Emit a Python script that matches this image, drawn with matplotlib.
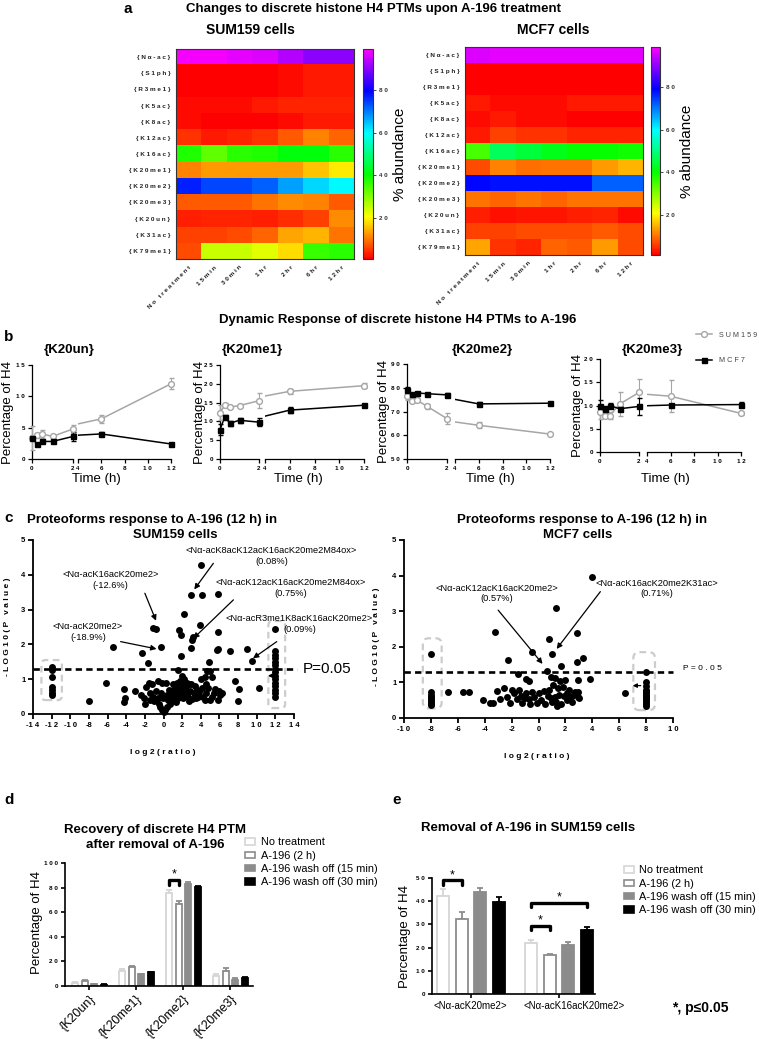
import numpy as np
import matplotlib
matplotlib.use('Agg')
import matplotlib.pyplot as plt
from matplotlib.colors import LinearSegmentedColormap
from matplotlib.patches import FancyBboxPatch, Patch
from matplotlib.lines import Line2D
from matplotlib.ticker import FuncFormatter
from matplotlib.transforms import ScaledTranslation

plt.rcParams['font.family'] = ['Liberation Sans', 'DejaVu Sans']

# ======================= DATA =======================
# --- panel a: heatmaps (% abundance) ---
ptm_labels = ['{Nα-ac}', '{S1ph}', '{R3me1}', '{K5ac}', '{K8ac}', '{K12ac}', '{K16ac}',
              '{K20me1}', '{K20me2}', '{K20me3}', '{K20un}', '{K31ac}', '{K79me1}']
heat_times = ['No treatment', '15min', '30min', '1hr', '2hr', '6hr', '12hr']
sum159_abund = [
    [98, 98, 97, 96, 93, 90, 90],
    [1, 1, 1, 1, 2, 3, 3],
    [1, 1, 1, 1, 2, 3, 3],
    [2, 2, 2, 3, 4, 4, 4],
    [2, 1, 1, 1, 2, 3, 3],
    [5, 3, 4, 5, 8, 11, 9],
    [38, 33, 37, 38, 41, 41, 37],
    [11, 13, 13, 13, 13, 16, 19],
    [77, 74, 74, 72, 67, 63, 60],
    [8, 8, 8, 10, 12, 11, 8],
    [3.5, 3.8, 4, 3.6, 4.8, 6.3, 12],
    [6, 6, 7, 9, 14, 15, 10],
    [7, 25, 25, 23, 18, 36, 37]]
mcf7_abund = [
    [96, 97, 97, 97, 97, 97, 97],
    [1, 1, 1, 1, 1, 1, 1],
    [1, 1, 1, 1, 1, 1, 1],
    [3, 2, 2, 2, 3, 3, 3],
    [2, 3, 2, 2, 1, 1, 1],
    [3, 6, 5, 5, 4, 4, 4],
    [35, 47, 45, 42, 40, 40, 39],
    [7, 11, 9.5, 10, 10, 13, 15],
    [79, 78, 78, 78, 78, 72, 72],
    [10, 9, 10, 9, 10, 10, 10],
    [3.3, 2.4, 2.8, 2.8, 3.5, 3.9, 2.0],
    [6, 6, 7, 7, 7, 8, 7],
    [14, 5, 4, 9, 8, 13, 7]]
abund_ticks = [20, 40, 60, 80]

# --- panel b: time courses ---
b_time = [0, 0.25, 0.5, 1, 2, 6, 12]
b_names = ['{K20un}', '{K20me1}', '{K20me2}', '{K20me3}']
b_sum159 = [[3.3, 3.8, 4.0, 3.6, 4.8, 6.4, 12.0],
            [12.3, 14.3, 13.8, 14.2, 15.5, 18.0, 19.5],
            [76.5, 74.5, 74.8, 72.2, 67.0, 64.2, 60.5],
            [8.5, 7.8, 7.8, 10.3, 12.8, 12.0, 8.3]]
b_sum159_err = [[1.9, 0.4, 0.7, 0.3, 0.6, 0.6, 0.9],
                [2.0, 0.5, 0.3, 0.3, 2.0, 0.6, 0.7],
                [1.5, 0.6, 0.8, 1.0, 2.2, 1.2, 0.6],
                [1.5, 0.5, 0.8, 2.5, 2.8, 3.4, 0.3]]
b_mcf7 = [[3.3, 2.4, 2.8, 2.8, 3.6, 4.0, 2.4],
          [7.8, 11.3, 9.5, 10.3, 9.8, 13.0, 14.3],
          [79.0, 77.2, 77.8, 77.5, 77.0, 73.2, 73.5],
          [10.0, 9.3, 10.0, 9.3, 9.8, 10.1, 10.2]]
b_mcf7_err = [[0.3, 0.2, 0.2, 0.2, 0.7, 0.3, 0.2],
              [1.5, 0.5, 0.7, 0.7, 1.0, 0.8, 0.4],
              [1.2, 0.6, 0.5, 0.5, 1.0, 0.8, 0.4],
              [1.2, 0.7, 0.6, 0.5, 1.8, 0.3, 0.6]]
b_ylims = [(0, 15), (0, 25), (50, 90), (0, 20)]
b_yticks = [[0, 5, 10, 15], [0, 5, 10, 15, 20, 25], [50, 60, 70, 80, 90], [0, 5, 10, 15, 20]]

# --- panel c: volcano plots ---
sum159_log2 = [4.0, 2.9, 4.1, 5.8, 2.2, 3.9, -1.1, -0.8, 1.7, 1.9, 3.2, 3.1, 5.9, 12.0, -5.4, -0.3,
               -2.3, 3.0, 1.9, 5.7, 5.9, 7.1, 9.0, 9.5, -1.7, 4.9, 4.7,
               1.6, 2.0, 2.2, 1.8, 2.5, 3.0, 3.6, 4.0, 4.4, 5.0, 5.2, 6.0, 5.5, 4.8, 5.8, 6.1, 6.3,
               7.7, 8.0, 8.1, 10.2, 3.3, 2.6, 2.1, 1.5, 1.2, 1.0, 0.8, 1.3, 1.7, 2.3, 2.8, 3.5,
               4.2, 4.6, 5.2, 1.9, 2.4, 1.4, 0.5, 0.7, 0.4, 0.2, 0.0, -0.2, -0.4, 1.1, 1.6, 2.0,
               2.7, 3.1, 3.8, 4.4, 5.0, 0.9, 1.5,
               0.6, 0.9, 1.2, 1.4, 1.8, 2.2, 2.5, 1.0, 1.3, 2.1, 2.7, 3.4, 0.4, 0.6, -0.3, -0.6,
               3.7, 4.1, 5.4, 4.6,
               -6.2, -8.0, -4.2, -4.1, -4.2, -3.1, -1.9, -1.6, -1.2, -0.6, -0.2, -2.1, -1.5, -1.0,
               -0.5, -1.1, -2.0, -0.8, 0.3, -0.1, -1.4, -2.4,
               -12, -12, -12, -12, -12, -12, -12,
               12, 12, 12, 12, 12, 12, 12, 12, 12, 12, 12, 12, 12, 12]
sum159_logp = [4.28, 3.43, 3.43, 3.46, 2.88, 2.56, 2.48, 2.44, 2.42, 2.27, 2.22, 2.14, 2.36, 2.45, 1.93, 1.92,
               1.74, 1.89, 1.67, 1.85, 1.88, 1.81, 1.86, 1.52, 1.46, 1.48, 1.25,
               1.27, 1.10, 1.00, 0.95, 0.90, 0.85, 0.70, 1.00, 1.05, 1.25, 1.05, 0.65, 0.72, 0.75, 0.40, 0.55, 0.60,
               0.95, 0.38, 0.72, 0.75, 0.60, 0.50, 0.45, 0.55, 0.60, 0.70, 0.50, 0.35, 0.75, 0.70, 0.65, 0.45,
               0.50, 0.60, 0.50, 0.85, 0.80, 0.90, 0.40, 0.30, 0.20, 0.12, 0.05, 0.12, 0.20, 0.40, 0.45, 0.60,
               0.38, 0.42, 0.62, 0.40, 0.40, 0.60, 0.75,
               0.45, 0.42, 0.50, 0.62, 0.55, 0.55, 0.62, 0.85, 0.80, 0.80, 0.85, 0.80, 0.55, 0.70, 0.60, 0.45,
               0.50, 0.75, 0.60, 0.85,
               0.90, 0.38, 0.71, 0.45, 0.35, 0.67, 0.79, 0.90, 0.85, 0.94, 0.90, 0.45, 0.60, 0.36,
               0.28, 0.50, 0.30, 0.65, 0.90, 0.45, 0.40, 0.55,
               1.36, 1.26, 1.07, 0.78, 0.69, 0.60, 0.55,
               1.80, 1.70, 1.60, 1.50, 1.40, 1.30, 1.20, 1.10, 1.00, 0.90, 0.80, 0.70, 0.60, 0.50]
mcf7_log2 = [3.95, 1.3, -3.2, 2.85, 0.8, -0.5, 1.0, -8.0, -2.25, 3.3, 2.85, 1.7, 0.6, -1.55, -0.95, -0.7,
             2.95, 3.8, 0.9, 1.25, 1.6, 2.0, 1.1, 1.45, 1.8, 2.3, 0.75, 1.5, 1.2, 2.1, 2.5, 2.9,
             -6.7, -5.65, -5.2, -4.1, -3.6, -3.1, -2.85, -2.6, -2.35, -2.1, -1.85, -1.6, -1.45, -1.2,
             -0.95, -0.7, -0.6, -0.45, -3.35, 0.2, 0.5, 0.9, 1.3, 1.7, 2.1, 2.5, 2.9, 2.7, 1.9, -0.1,
             0.7, 3.0, 6.45,
             -1.0, -0.3, 0.0, 0.4, 1.0, -2.0, -1.3, 1.4, 2.3,
             -8, -8, -8, -8, -8, -8, -8, -8,
             8, 8, 8, 8, 8, 8, 8, 8, 8, 8, 8, 8, 8]
mcf7_logp = [3.97, 3.10, 2.42, 2.40, 2.21, 1.84, 1.80, 1.80, 1.64, 1.68, 1.56, 1.45, 1.32, 1.23, 1.10, 1.03,
             1.07, 1.09, 1.16, 1.12, 1.03, 1.07, 0.93, 0.84, 0.88, 0.78, 0.78, 0.66, 0.60, 0.70, 0.62, 0.72,
             0.72, 0.74, 0.74, 0.51, 0.41, 0.75, 0.52, 0.84, 0.60, 0.42, 0.69, 0.52, 0.78, 0.42,
             0.69, 0.52, 0.40, 0.74, 0.41, 0.50, 0.40, 0.55, 0.45, 0.40, 0.50, 0.45, 0.60, 0.72, 0.62, 0.42,
             0.62, 0.55, 0.71,
             0.55, 0.60, 0.70, 0.75, 0.45, 0.80, 0.62, 0.35, 0.55,
             0.72, 0.66, 0.60, 0.55, 0.50, 0.45, 0.40, 0.36,
             1.30, 1.02, 0.90, 0.80, 0.75, 0.70, 0.65, 0.60, 0.55, 0.50, 0.45, 0.40, 0.35]
p_threshold = 0.05

# --- panel d / e: bars ---
bar_series = ['No treatment', 'A-196 (2 h)', 'A-196 wash off (15 min)', 'A-196 wash off (30 min)']
d_groups = ['{K20un}', '{K20me1}', '{K20me2}', '{K20me3}']
d_vals = [[2.6, 12.5, 75.6, 8.1],
          [4.4, 15.3, 66.8, 12.3],
          [1.6, 9.4, 83.0, 5.2],
          [1.0, 11.0, 80.8, 6.7]]
d_errs = [[1.0, 1.5, 2.5, 1.5],
          [0.8, 1.2, 2.5, 2.2],
          [0.4, 0.7, 1.5, 1.0],
          [0.3, 0.5, 0.7, 0.5]]
e_groups = ['<Nα-acK20me2>', '<Nα-acK16acK20me2>']
e_vals = [[42.3, 21.8], [32.5, 16.6], [43.8, 21.2], [39.8, 27.6]]
e_errs = [[2.8, 1.4], [2.9, 0.7], [1.8, 1.0], [1.8, 1.4]]

# ======================= FIGURE =======================
W, H = 759, 1039
fig = plt.figure(figsize=(W / 100, H / 100), dpi=100)


def ax_px(x0, y0, x1, y1):
    return fig.add_axes([x0 / W, 1 - y1 / H, (x1 - x0) / W, (y1 - y0) / H])


def ftext(x, y, s, **kw):
    kw.setdefault('ha', 'center')
    kw.setdefault('va', 'center')
    return fig.text(x / W, 1 - y / H, s, **kw)


def spaced(s):
    return ' '.join(s)


def sp_num(v, pos=None):
    s = '%d' % round(v)
    if s[0] == '-':
        return '-' + ' '.join(s[1:])
    return ' '.join(s)


def bold_ticks(ax):
    plt.setp(ax.get_xticklabels() + ax.get_yticklabels(), fontweight='bold')


def simple_spines(ax, lw=0.9):
    for s in ['top', 'right']:
        ax.spines[s].set_visible(False)
    for s in ['left', 'bottom']:
        ax.spines[s].set_linewidth(lw)
    ax.tick_params(width=lw, length=3, labelsize=4.5, pad=2)


# ---------------- panel a ----------------
cmap = LinearSegmentedColormap.from_list(
    'abund', [(0.0, '#ff0000'), (0.2, '#ffff00'), (0.4, '#00ff00'),
              (0.6, '#00ffff'), (0.8, '#0000ff'), (1.0, '#ff00ff')])

ftext(128, 9, 'a', fontsize=11, fontweight='bold')
ftext(374, 9, 'Changes to discrete histone H4 PTMs upon A-196 treatment', fontsize=9.5, fontweight='bold')


def heat(rect, crect, data, title, tx):
    ax = ax_px(*rect)
    cax = ax_px(*crect)
    im = ax.imshow(np.array(data, dtype=float), cmap=cmap, vmin=1, vmax=99, aspect='auto',
                   interpolation='nearest')
    ax.set_xticks(range(len(heat_times)))
    ax.set_xticklabels([spaced(t) for t in heat_times], rotation=45, ha='right',
                       rotation_mode='anchor', fontsize=4.6, fontweight='bold', color='#222222')
    ax.set_yticks(range(len(ptm_labels)))
    ax.set_yticklabels([spaced(l) for l in ptm_labels], fontsize=4.6, fontweight='bold', color='#222222')
    ax.tick_params(length=0, pad=4)
    for s in ax.spines.values():
        s.set_linewidth(0.8)
        s.set_color('#333333')
    cb = fig.colorbar(im, cax=cax, ticks=abund_ticks)
    cb.ax.set_yticklabels([sp_num(v) for v in abund_ticks], fontsize=4.5, fontweight='bold', color='#333333')
    cb.ax.tick_params(length=2, width=0.5, pad=2)
    cb.outline.set_linewidth(0.8)
    cb.outline.set_edgecolor('#333333')
    cb.set_label('% abundance', fontsize=11, labelpad=4)
    ftext(tx, 30, title, fontsize=10, fontweight='bold')


heat((176, 49, 354, 259), (363, 49, 373, 259), sum159_abund, 'SUM159 cells', 250)
heat((465, 47, 643, 255), (651, 47, 660, 255), mcf7_abund, 'MCF7 cells', 553)

# ---------------- panel b ----------------
ftext(9, 337, 'b', fontsize=11, fontweight='bold')
ftext(398, 320, 'Dynamic Response of discrete histone H4 PTMs to A-196', fontsize=9.5, fontweight='bold')

b_rects = [((32, 365, 73, 459), (78, 365, 171, 459)),
           ((220, 365, 259, 459), (265, 365, 364, 459)),
           ((407, 364, 447, 459), (455, 364, 550, 459)),
           ((600, 359, 639, 452), (647, 359, 741, 452))]
b_title_x = [69, 252, 482, 652]
b_ylab_x = [8, 200, 384, 578]
b_time_x = [96, 298, 490, 665]
t_arr = np.array(b_time, dtype=float)
grey = '#a6a6a6'
for i in range(4):
    (l_rect, r_rect) = b_rects[i]
    axL = ax_px(*l_rect)
    axR = ax_px(*r_rect)
    for ax, lo, hi in [(axL, 0, 2), (axR, 4, 12)]:
        m = (t_arr >= lo) & (t_arr <= hi)
        for vals, errs, col, mk, mfc, ms in [(b_sum159[i], b_sum159_err[i], grey, 'o', 'white', 4.2),
                                             (b_mcf7[i], b_mcf7_err[i], 'black', 's', 'black', 3.6)]:
            v = np.array(vals)
            e = np.array(errs)
            ax.plot(t_arr, v, color=col, lw=1.1, zorder=2)
            eb = ax.errorbar(t_arr[m], v[m], yerr=e[m], fmt=mk, color=col, mfc=mfc, mec=col,
                             ms=ms, mew=1.0, capsize=1.8, elinewidth=0.8, capthick=0.8, zorder=3)
            ln, caps, bars_ = eb.lines
            for a in [ln, *caps, *bars_]:
                a.set_clip_on(False)
        ax.set_xlim(lo, hi)
        ax.set_ylim(*b_ylims[i])
        simple_spines(ax)
        ax.xaxis.set_major_formatter(FuncFormatter(sp_num))
        ax.yaxis.set_major_formatter(FuncFormatter(sp_num))
    axL.set_xticks([0, 2])
    axR.set_xticks([4, 6, 8, 10, 12])
    axL.set_yticks(b_yticks[i])
    axR.spines['left'].set_visible(False)
    axR.set_yticks([])
    bold_ticks(axL)
    bold_ticks(axR)
    yc = (l_rect[1] + l_rect[3]) / 2
    ftext(b_ylab_x[i], yc, 'Percentage of H4', fontsize=9.5, rotation=90)
    ftext(b_time_x[i], 479, 'Time (h)', fontsize=9.5)
    ftext(b_title_x[i], 350, b_names[i], fontsize=9.5, fontweight='bold')

leg_handles = [Line2D([0], [0], color=grey, marker='o', mfc='white', mec=grey, ms=4.2, lw=1.1),
               Line2D([0], [0], color='black', marker='s', mfc='black', ms=3.6, lw=1.1)]
fig.legend(leg_handles, [spaced('SUM159'), spaced('MCF7')], loc='upper left',
           bbox_to_anchor=(692 / W, 1 - 328 / H), frameon=False, fontsize=5.2,
           handlelength=2.3, labelspacing=2.6, handletextpad=0.9, borderpad=0,
           labelcolor='#444444')

# ---------------- panel c ----------------
ftext(9, 518, 'c', fontsize=11, fontweight='bold')
thr = -np.log10(p_threshold)


def volcano(rect, xs, ys, xlim, title_x, title2, t2x, boxes, mut_aspect):
    ax = ax_px(*rect)
    ax.scatter(xs, ys, s=25, color='black', linewidths=0, zorder=3, clip_on=False)
    ax.set_xlim(*xlim)
    ax.set_ylim(0, 5)
    ax.set_xticks(np.arange(xlim[0], xlim[1] + 1, 2))
    ax.set_yticks([0, 1, 2, 3, 4, 5])
    simple_spines(ax, lw=1.3)
    ax.tick_params(labelsize=5.5, length=3.5, width=1.3)
    ax.xaxis.set_major_formatter(FuncFormatter(sp_num))
    bold_ticks(ax)
    for (bx0, by0, bx1, by1) in boxes:
        p = FancyBboxPatch((bx0, by0), bx1 - bx0, by1 - by0,
                           boxstyle='round,pad=0,rounding_size=0.45', mutation_aspect=mut_aspect,
                           fill=False, ec='#cccccc', lw=1.6, ls=(0, (3, 2)), zorder=2)
        ax.add_patch(p)
    ftext(title_x, 520, 'Proteoforms response to A-196 (12 h) in', fontsize=9.5, fontweight='bold')
    ftext(t2x, 535, title2, fontsize=9.5, fontweight='bold')
    return ax


axc1 = volcano((33, 540, 294, 714), sum159_log2, sum159_logp, (-14, 14), 152, 'SUM159 cells', 175,
               [(-13.1, 0.4, -10.9, 1.55), (11.25, 0.17, 13.05, 2.67)], 0.268)
axc1.axhline(thr, xmin=0, xmax=1.012, color='black', lw=1.9, ls=(0, (2.4, 1.6)), clip_on=False, zorder=4)
ftext(303, 669, 'P=0.05', fontsize=11, ha='left')
ftext(163, 752, spaced('log2(ratio)'), fontsize=6, fontweight='bold')
ftext(8, 627, spaced('-LOG10(P value)'), fontsize=6, fontweight='bold', rotation=90)

axc2 = volcano((404, 540, 673, 718), mcf7_log2, mcf7_logp, (-10, 10), 582, 'MCF7 cells', 578,
               [(-8.6, 0.27, -7.2, 2.24), (7.05, 0.22, 8.66, 1.85)], 0.378)
axc2.axhline(thr, xmin=0, xmax=1.0, color='black', lw=1.9, ls=(0, (2.4, 1.6)), clip_on=False, zorder=4)
ftext(683, 668, 'P = 0 . 0 5', fontsize=6, ha='left')
ftext(537, 757, spaced('log2(ratio)'), fontsize=6, fontweight='bold')
ftext(376, 637, spaced('-LOG10(P value)'), fontsize=6, fontweight='bold', rotation=90)

arr = dict(arrowstyle='-|>', color='black', lw=0.9, mutation_scale=8, shrinkA=0, shrinkB=0)
small_arr = dict(arrowstyle='-|>', color='black', lw=0.9, mutation_scale=6, shrinkA=0, shrinkB=0)
ann_fs = 6.7
c1_ann = [('<Nα-acK20me2>\n(-18.9%)', (-8.1, 2.36), (-4.6, 2.08), (-0.75, 1.87)),
          ('<Nα-acK16acK20me2>\n(-12.6%)', (-5.7, 3.85), (-2.0, 3.47), (-0.8, 2.68)),
          ('<Nα-acK8acK12acK16acK20me2M84ox>\n(0.08%)', (11.6, 4.55), (5.35, 4.33), (3.3, 3.58)),
          ('<Nα-acK12acK16acK20me2M84ox>\n(0.75%)', (13.6, 3.62), (7.5, 3.28), (3.2, 2.17)),
          ('<Nα-acR3me1K8acK16acK20me2>\n(0.09%)', (14.6, 2.58), (12.15, 2.08), (9.6, 1.6))]
for txt, tp, tail, tip in c1_ann:
    axc1.text(tp[0], tp[1], txt, fontsize=ann_fs, ha='center', va='center', linespacing=1.25, zorder=6)
    axc1.annotate('', xy=tip, xytext=tail, arrowprops=arr, zorder=6)
axc1.annotate('', xy=(11.2, 1.1), xytext=(11.9, 1.1), arrowprops=small_arr, zorder=6)

c2_ann = [('<Nα-acK12acK16acK20me2>\n(0.57%)', (-3.1, 3.5), (-3.0, 3.03), (0.3, 1.52)),
          ('<Nα-acK16acK20me2K31ac>\n(0.71%)', (8.8, 3.64), (4.6, 3.55), (1.35, 1.94))]
for txt, tp, tail, tip in c2_ann:
    axc2.text(tp[0], tp[1], txt, fontsize=ann_fs, ha='center', va='center', linespacing=1.25, zorder=6)
    axc2.annotate('', xy=tip, xytext=tail, arrowprops=arr, zorder=6)
axc2.annotate('', xy=(7.0, 0.91), xytext=(7.6, 0.91), arrowprops=small_arr, zorder=6)

# ---------------- panels d, e ----------------
bar_fc = ['white', 'white', '#8c8c8c', 'black']
bar_ec = ['#d6d6d6', '#8c8c8c', '#8c8c8c', 'black']


def bars(ax, vals, errs, ngroups, step, width):
    x = np.arange(ngroups)
    for k in range(4):
        xs = x + (k - 1.5) * step
        ax.bar(xs, vals[k], width=width, color=bar_fc[k], edgecolor=bar_ec[k], lw=1.3, zorder=2)
        ax.errorbar(xs, vals[k], yerr=[np.zeros(ngroups), errs[k]], fmt='none', ecolor=bar_ec[k],
                    elinewidth=1.3, capsize=2.2, capthick=1.3, zorder=1)
    return x


def bracket(ax, x1, x2, y, h, ys):
    ax.plot([x1, x1, x2, x2], [y - h, y, y, y - h], color='black', lw=2.4,
            solid_joinstyle='round', solid_capstyle='round', zorder=4, clip_on=False)
    ax.text((x1 + x2) / 2, ys, '*', ha='center', va='center', fontsize=9, zorder=4)


leg_fs = 7.9
ftext(9, 800, 'd', fontsize=11, fontweight='bold')
ftext(155, 830, 'Recovery of discrete H4 PTM', fontsize=9.5, fontweight='bold')
ftext(155, 845, 'after removal of A-196', fontsize=9.5, fontweight='bold')
axd = ax_px(65, 863, 253, 986)
d_step, d_w = 0.206, 0.13
xd = bars(axd, d_vals, d_errs, 4, d_step, d_w)
axd.set_xlim(-0.52, 3.48)
axd.set_ylim(0, 100)
simple_spines(axd, lw=1.2)
axd.set_yticks([0, 20, 40, 60, 80, 100])
axd.yaxis.set_major_formatter(FuncFormatter(sp_num))
axd.set_xticks(xd)
axd.set_xticklabels(d_groups, rotation=45, ha='right', va='top', rotation_mode='anchor', fontsize=9)
axd.tick_params(axis='x', length=3, labelsize=9, pad=2)
plt.setp(axd.get_yticklabels(), fontweight='bold')
bracket(axd, 2 - 1.5 * d_step, 2 - 0.5 * d_step, 86, 4, 91)
ftext(37, 923, 'Percentage of H4', fontsize=9.5, rotation=90)

leg_patches = [Patch(facecolor=bar_fc[k], edgecolor=bar_ec[k], lw=1.2) for k in range(4)]
fig.legend(leg_patches, bar_series, loc='upper left', bbox_to_anchor=(240 / W, 1 - 832 / H),
           frameon=False, fontsize=leg_fs, handlelength=0.85, handleheight=0.55, labelspacing=0.3,
           handletextpad=0.55, borderpad=0)

ftext(397, 800, 'e', fontsize=11, fontweight='bold')
ftext(528, 828, 'Removal of A-196 in SUM159 cells', fontsize=9.5, fontweight='bold')
axe = ax_px(432, 878, 595, 994)
e_step, e_w = 0.2125, 0.136
xe = bars(axe, e_vals, e_errs, 2, e_step, e_w)
axe.set_xlim(-0.443, 1.41)
axe.set_ylim(0, 50)
simple_spines(axe, lw=1.2)
axe.set_yticks([0, 10, 20, 30, 40, 50])
axe.yaxis.set_major_formatter(FuncFormatter(sp_num))
axe.set_xticks(xe)
axe.set_xticklabels(e_groups, fontsize=7.0)
axe.tick_params(axis='x', length=3, labelsize=7.0, pad=2)
xl = axe.get_xticklabels()
xl[0].set_transform(xl[0].get_transform() + ScaledTranslation(-1 / 100, 0, fig.dpi_scale_trans))
xl[1].set_transform(xl[1].get_transform() + ScaledTranslation(15 / 100, 0, fig.dpi_scale_trans))
plt.setp(axe.get_yticklabels(), fontweight='bold')
bracket(axe, 0 - 1.5 * e_step, 0 - 0.5 * e_step, 49, 2, 51.2)
bracket(axe, 1 - 1.5 * e_step, 1 - 0.5 * e_step, 29.3, 1.7, 31.8)
bracket(axe, 1 - 1.5 * e_step, 1 + 1.5 * e_step, 39.2, 1.7, 41.8)
ftext(405, 937, 'Percentage of H4', fontsize=9.5, rotation=90)
fig.legend(leg_patches, bar_series, loc='upper left', bbox_to_anchor=(619 / W, 1 - 860 / H),
           frameon=False, fontsize=leg_fs, handlelength=0.85, handleheight=0.55, labelspacing=0.3,
           handletextpad=0.45, borderpad=0)
ftext(700, 1008, '*, p≤0.05', fontsize=10, fontweight='bold')

fig.savefig('out.png', dpi=100)
